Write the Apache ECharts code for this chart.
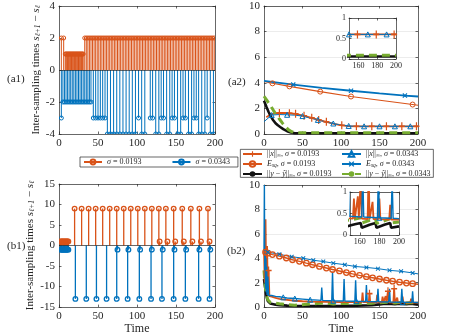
<!DOCTYPE html>
<html>
<head>
<meta charset="utf-8">
<script src="https://cdn.jsdelivr.net/npm/echarts@6/dist/echarts.min.js"></script>
<style>
html, body { margin: 0; padding: 0; background: #fff; }
#chart { width: 463px; height: 336px; }
</style>
</head>
<body>
<div id="chart"></div>
<script>
// ---- (a1) stems: sampling instants grouped by inter-sampling time ----
var a1OrangeAt1 = [8, 9, 10, 11, 12, 13, 14, 15, 16, 17, 18, 19, 20, 21, 22, 23, 24, 25, 26, 27, 28, 29, 30, 31]
var a1OrangeAt2 = [3, 6, 33, 35, 37, 39, 41, 43, 45, 47, 49, 51, 53, 55, 57, 59, 61, 63, 65, 67, 69, 71, 73, 75, 77, 79,
  81, 83, 85, 87, 89, 91, 93, 95, 97, 99, 101, 103, 105, 107, 109, 111, 113, 115, 117, 119, 121, 123, 125, 127, 129,
  131, 133, 135, 137, 139, 141, 143, 145, 147, 149, 151, 153, 155, 157, 159, 161, 163, 165, 167, 169, 171, 173, 175,
  177, 179, 181, 183, 185, 187, 189, 191, 193, 195, 197, 199]
var a1BlueAt2 = [5, 7, 9, 11, 13, 15, 17, 19, 21, 23, 25, 27, 29, 31, 33, 35, 37, 39, 41]
var a1BlueAt3 = [3, 44, 47, 50, 53, 56, 59, 102, 117, 120, 131, 134, 145, 148, 159, 162, 173, 176, 190]
var a1BlueAt4 = [62, 66, 70, 74, 78, 82, 86, 90, 94, 98, 106, 110, 124, 128, 138, 142, 152, 156, 166, 170, 179, 183, 187, 194, 198]

// ---- (b1) stems ----
var b1OrangeAt1 = [2, 3, 4, 5, 6, 7, 8, 9, 10, 11, 12, 129, 139, 149, 160, 171, 182, 193]
var b1OrangeAt9 = [20, 29, 38, 47, 56, 65, 74, 83, 92, 101, 110, 119, 128, 137, 147, 158, 169, 180, 191]
var b1BlueAt1 = [2, 3, 4, 5, 6, 7, 8, 9, 10, 11, 12, 75, 89, 104, 119, 133, 148, 163, 180, 194]
var b1BlueAt13 = [21, 35, 48, 61, 74, 88, 103, 118, 132, 147, 162, 179, 193]

// ---- (a2) curves: times, values, times that carry a marker ----
var a2XinfOrangeT = [3, 8, 13, 20, 27, 33, 41, 52, 62, 71, 81, 91, 101, 110, 120, 140, 159, 179, 198, 200]
var a2XinfOrangeV = [1.3, 1.5, 1.6, 1.64, 1.64, 1.62, 1.58, 1.42, 1.26, 1.1, 0.95, 0.8, 0.68, 0.62, 0.6, 0.6, 0.6, 0.6, 0.6, 0.6]
var a2XinfOrangeM = [20, 33, 41, 52, 62, 71, 81, 101, 120, 140, 159, 179, 198]
var a2XinfBlueT = [0, 10, 20, 30, 40, 50, 60, 70, 80, 90, 100, 110, 120, 130, 150, 170, 190, 200]
var a2XinfBlueV = [0.96, 1.48, 1.52, 1.5, 1.47, 1.4, 1.25, 1.1, 0.95, 0.82, 0.7, 0.63, 0.6, 0.6, 0.6, 0.6, 0.6, 0.6]
var a2XinfBlueM = [10, 30, 50, 70, 90, 110, 130, 150, 170, 190]
var a2EsqOrangeT = [0, 11, 33, 73, 113, 153, 193, 200]
var a2EsqOrangeV = [4.1, 3.96, 3.72, 3.31, 2.93, 2.62, 2.3, 2.24]
var a2EsqOrangeM = [11, 33, 73, 113, 193]
var a2EsqBlueT = [0, 38, 75, 113, 150, 183, 200]
var a2EsqBlueV = [4.15, 3.86, 3.6, 3.38, 3.17, 3.0, 2.93]
var a2EsqBlueM = [38, 113, 183]
var a2ErrBlackT = [0, 3, 6, 9, 12, 15, 18, 21, 25, 30, 35, 40, 100, 200]
var a2ErrBlackV = [2.6, 2.15, 1.72, 1.36, 1.07, 0.84, 0.68, 0.55, 0.38, 0.22, 0.11, 0.06, 0.06, 0.06]
var a2ErrGreenT = [0, 4, 8, 12, 16, 20, 24, 28, 32, 36, 40, 45, 100, 200]
var a2ErrGreenV = [2.95, 2.6, 2.25, 1.87, 1.5, 1.17, 0.85, 0.55, 0.32, 0.18, 0.11, 0.09, 0.09, 0.09]

// ---- (b2) curves ----
var b2EsqOrangeT = [0, 2, 5, 11, 20, 29, 37, 46, 55, 63, 72, 81, 89, 98, 107, 115, 124, 133, 141, 150, 159, 167, 176, 185, 193, 200]
var b2EsqOrangeV = [4.55, 4.5, 4.42, 4.3, 4.17, 4.02, 3.88, 3.75, 3.6, 3.47, 3.33, 3.2, 3.08, 2.96, 2.83, 2.72, 2.6, 2.49, 2.4, 2.3, 2.2, 2.12, 2.04, 1.97, 1.92, 1.87]
var b2EsqOrangeM = [2, 5, 11, 20, 29, 37, 46, 55, 63, 72, 81, 89, 98, 107, 115, 124, 133, 141, 150, 159, 167, 176, 185, 193]
var b2EsqBlueT = [0, 5, 20, 36, 51, 64, 77, 90, 105, 118, 133, 148, 163, 178, 193, 200]
var b2EsqBlueV = [4.7, 4.5, 4.32, 4.13, 4.0, 3.84, 3.73, 3.6, 3.47, 3.33, 3.25, 3.15, 3.01, 2.93, 2.8, 2.72]
var b2EsqBlueM = [5, 20, 36, 51, 64, 77, 90, 105, 118, 133, 148, 163, 178, 193]
var b2XinfBlueT = [0, 0.5, 1, 1.5, 2, 2.5, 3, 3.5, 4, 5, 6, 8, 10, 15, 20, 25, 30, 40, 50, 60, 70, 74, 75, 76, 88, 89, 90,
  103, 104, 105, 118, 119, 120, 132, 133, 134, 147, 148, 149, 162, 163, 164, 178, 179, 180, 192, 193, 194, 200]
var b2XinfBlueV = [4.6, 10, 3, 4.5, 1.5, 4, 1.2, 3.3, 1.0, 2.5, 0.95, 1.0, 0.95, 0.88, 0.85, 0.8, 0.75, 0.7, 0.65, 0.6, 0.57, 0.55, 1.6, 0.55, 0.52, 2.9, 0.52,
  0.5, 2.3, 0.5, 0.48, 2.2, 0.48, 0.46, 1.8, 0.46, 0.44, 1.5, 0.44, 0.42, 1.5, 0.42, 0.4, 1.5, 0.4, 0.39, 1.3, 0.39, 0.38]
var b2XinfBlueM = [25, 40, 60, 90, 120, 150, 180]
var b2XinfOrangeT = [0, 1, 2, 3, 4, 5, 6, 7, 10, 15, 20, 30, 40, 50, 60, 80, 100, 120, 127, 128, 129, 136, 137, 138, 146, 147, 148,
  153, 154, 155, 157, 158, 159, 160, 161, 162, 168, 169, 170, 172, 173, 174, 179, 180, 181, 190, 191, 192, 200]
var b2XinfOrangeV = [4.6, 2, 7.2, 1.5, 5, 1.0, 3.0, 0.9, 0.85, 0.75, 0.68, 0.6, 0.52, 0.48, 0.45, 0.43, 0.41, 0.4, 0.4, 1.2, 0.4, 0.4, 1.1, 0.4, 0.39, 1.0, 0.39,
  0.38, 0.85, 0.38, 0.38, 0.9, 0.38, 0.38, 1.3, 0.38, 0.37, 1.5, 0.37, 0.37, 0.77, 0.37, 0.37, 0.85, 0.37, 0.36, 0.7, 0.36, 0.36]
var b2XinfOrangeM = [6, 137, 161, 169]
var b2ErrBlackT = [0, 1, 2, 3, 4, 5, 6, 8, 10, 15, 20, 30, 40, 60, 80, 100, 120, 140, 150, 155, 161, 162, 170, 176, 177, 185, 191, 192, 200]
var b2ErrBlackV = [2.3, 1.8, 1.4, 1.0, 0.7, 0.5, 0.38, 0.3, 0.26, 0.2, 0.16, 0.12, 0.1, 0.09, 0.09, 0.1, 0.12, 0.15, 0.22, 0.25, 0.28, 0.17, 0.24, 0.28, 0.17, 0.24, 0.28, 0.17, 0.2]
var b2ErrGreenT = [0, 1, 2, 3, 5, 8, 10, 20, 30, 40, 60, 80, 90, 100, 120, 140, 150, 161, 162, 170, 176, 177, 185, 191, 192, 200]
var b2ErrGreenV = [3.0, 2.2, 1.5, 1.0, 0.6, 0.4, 0.35, 0.28, 0.2, 0.15, 0.25, 0.35, 0.25, 0.3, 0.3, 0.32, 0.35, 0.4, 0.28, 0.34, 0.38, 0.27, 0.33, 0.38, 0.28, 0.3]

var ORANGE = '#D95319'
var BLUE = '#0072BD'
var GREEN = '#77AC30'
var BLACK = '#111111'
var AXIS = '#262626'
var SERIF = 'Liberation Serif'

var grids = []
var xAxes = []
var yAxes = []
var series = []

function panel(box, xr, yr, opts) {
  var z = opts.zlevel || 0
  var fs = opts.fontSize || 11
  var gi = grids.length
  grids.push({ left: box[0], top: box[1], width: box[2], height: box[3], show: true, borderWidth: 0, backgroundColor: '#fff', zlevel: z })
  var line = { show: true, onZero: false, lineStyle: { color: AXIS, width: 0.7 } }
  var tick = { show: true, inside: true, length: 2.5, lineStyle: { color: AXIS, width: 0.7 } }
  var lbl = { fontFamily: SERIF, fontSize: fs, color: AXIS, margin: opts.labelMargin || 4 }
  var grid = { show: !!opts.grid, lineStyle: { color: '#dfdfdf', width: 0.6 } }
  var xb = { gridIndex: gi, type: 'value', min: xr[0], max: xr[1], position: 'bottom', zlevel: z,
    axisLine: line, axisTick: Object.assign({}, tick), axisLabel: Object.assign({}, lbl), splitLine: { show: false } }
  if (xr[3]) {
    xb.axisTick.customValues = xr[3]
    xb.axisLabel.customValues = xr[3]
  } else {
    xb.interval = xr[2]
  }
  if (opts.xName) {
    xb.name = opts.xName
    xb.nameLocation = 'middle'
    xb.nameGap = 15
    xb.nameTextStyle = { fontFamily: SERIF, fontSize: 12, color: AXIS }
  }
  xAxes.push(xb)
  xAxes.push({ gridIndex: gi, type: 'value', min: xr[0], max: xr[1], position: 'top', zlevel: z,
    interval: xr[3] ? undefined : xr[2],
    axisLine: line, axisTick: xr[3] ? Object.assign({ customValues: xr[3] }, tick) : tick,
    axisLabel: { show: false }, splitLine: { show: false } })
  var yl = { gridIndex: gi, type: 'value', min: yr[0], max: yr[1], interval: yr[2], position: 'left', zlevel: z,
    axisLine: line, axisTick: tick, axisLabel: lbl, splitLine: grid }
  if (opts.yName) {
    yl.name = opts.yName
    yl.nameLocation = 'middle'
    yl.nameGap = opts.yNameGap
    yl.nameTextStyle = { fontFamily: SERIF, fontSize: 11, color: AXIS, rich: {
      r: { fontFamily: SERIF, fontSize: 11, color: AXIS },
      i: { fontFamily: SERIF, fontSize: 11, fontStyle: 'italic', color: AXIS },
      sub: { fontFamily: SERIF, fontSize: 7.5, fontStyle: 'italic', color: AXIS, verticalAlign: 'bottom', padding: [4, 0, 0, 0] }
    } }
  }
  yAxes.push(yl)
  yAxes.push({ gridIndex: gi, type: 'value', min: yr[0], max: yr[1], interval: yr[2], position: 'right', zlevel: z,
    axisLine: line, axisTick: tick, axisLabel: { show: false }, splitLine: { show: false } })
  return { x: xAxes.length - 2, y: yAxes.length - 2, z: z }
}

var yLabel = '{r|Inter-sampling times }{i|s}{sub|ℓ+1}{r| − }{i|s}{sub|ℓ}'
var pA1 = panel([59, 6, 156, 128], [0, 200, 50], [-4, 4, 2], { yName: yLabel, yNameGap: 15 })
var pA2 = panel([264, 6, 154, 128], [0, 200, 50], [0, 10, 2], { grid: true })
var pA2in = panel([349, 18, 47, 41], [150, 200, 10, [160, 180, 200]], [0, 1, 0.5], { grid: true, fontSize: 8, labelMargin: 3, zlevel: 1 })
var pB1 = panel([59, 184, 156, 125], [0, 200, 50], [-15, 15, 5], { yName: yLabel, yNameGap: 19, xName: 'Time' })
var pB2 = panel([264, 185, 154, 125], [0, 200, 50], [0, 10, 2], { grid: true, xName: 'Time' })
var pB2in = panel([350, 192, 49, 43], [150, 200, 10, [160, 180, 200]], [0, 1, 0.5], { grid: true, fontSize: 8, labelMargin: 3, zlevel: 1 })

function stems(ax, times, level, color, r, w) {
  return {
    type: 'custom', xAxisIndex: ax.x, yAxisIndex: ax.y, clip: true, silent: true,
    data: times.map(function (t) { return [t, level] }),
    encode: { x: 0, y: 1 },
    renderItem: function (params, api) {
      var base = api.coord([api.value(0), 0])
      var tip = api.coord([api.value(0), api.value(1)])
      return { type: 'group', children: [
        { type: 'line', shape: { x1: base[0], y1: base[1], x2: tip[0], y2: tip[1] }, style: { stroke: color, lineWidth: w } },
        { type: 'circle', shape: { cx: tip[0], cy: tip[1], r: r }, style: { fill: 'none', stroke: color, lineWidth: w } }
      ] }
    }
  }
}

var baseLine = { silent: true, symbol: 'none', label: { show: false }, data: [{ yAxis: 0 }], lineStyle: { color: AXIS, width: 0.7, type: 'solid' } }

series.push(stems(pA1, a1OrangeAt1, 1, ORANGE, 2, 1))
series.push(stems(pA1, a1OrangeAt2, 2, ORANGE, 2, 1))
series.push(stems(pA1, a1BlueAt2, -2, BLUE, 2, 1))
series.push(stems(pA1, a1BlueAt3, -3, BLUE, 2, 1))
var a1Last = stems(pA1, a1BlueAt4, -4, BLUE, 2, 1)
a1Last.markLine = baseLine
series.push(a1Last)

series.push(stems(pB1, b1OrangeAt1, 1, ORANGE, 2.3, 1.3))
series.push(stems(pB1, b1OrangeAt9, 9, ORANGE, 2.3, 1.3))
series.push(stems(pB1, b1BlueAt1, -1, BLUE, 2.3, 1.3))
var b1Last = stems(pB1, b1BlueAt13, -13, BLUE, 2.3, 1.3)
b1Last.markLine = baseLine
series.push(b1Last)

// legend entries of (a1): empty line series carrying the stem look
var S1 = 'sig1'
var S2 = 'sig2'
;[[S1, ORANGE], [S2, BLUE]].forEach(function (d) {
  series.push({ type: 'line', name: d[0], xAxisIndex: pA1.x, yAxisIndex: pA1.y, data: [],
    symbol: 'circle', symbolSize: 5,
    lineStyle: { color: d[1], width: 1.2 },
    itemStyle: { color: 'rgba(0,0,0,0)', borderColor: d[1], borderWidth: 1.2 } })
})

var PLUS = 'path://M4,0H6V4H10V6H6V10H4V6H0V4H4Z'
var CROSS = 'path://M0,1.6L1.6,0L5,3.4L8.4,0L10,1.6L6.6,5L10,8.4L8.4,10L5,6.6L1.6,10L0,8.4L3.4,5Z'

function curve(name, ax, T, V, M, st) {
  return {
    type: 'line', name: name, xAxisIndex: ax.x, yAxisIndex: ax.y, zlevel: ax.z,
    data: T.map(function (t, i) {
      var item = { value: [t, V[i]] }
      if (!M || M.indexOf(t) < 0) item.symbol = 'none'
      return item
    }),
    symbol: st.symbol || 'none', symbolSize: st.size || 5, showAllSymbol: true, clip: true, silent: true,
    lineStyle: { color: st.color, width: st.width, type: st.dash || 'solid' },
    itemStyle: st.hollow
      ? { color: 'rgba(0,0,0,0)', borderColor: st.color, borderWidth: st.bw || 1 }
      : { color: st.color, borderWidth: 0 }
  }
}

var XO = 'xo', XB = 'xb', EO = 'eo', EB = 'eb', YO = 'yo', YB = 'yb'
var styleXO = { color: ORANGE, width: 1.8, symbol: PLUS, size: [6, 8] }
var styleXB = { color: BLUE, width: 1, symbol: 'triangle', size: 5, hollow: true, bw: 1 }
var styleEO = { color: ORANGE, width: 1.1, symbol: 'circle', size: 5, hollow: true, bw: 1 }
var styleEB = { color: BLUE, width: 1.8, symbol: CROSS, size: 5 }
var styleYO = { color: BLACK, width: 2.6 }
var styleYB = { color: GREEN, width: 3, dash: [8, 5] }

;[pA2, pA2in].forEach(function (p) {
  series.push(curve(XO, p, a2XinfOrangeT, a2XinfOrangeV, a2XinfOrangeM, styleXO))
  series.push(curve(EO, p, a2EsqOrangeT, a2EsqOrangeV, a2EsqOrangeM, styleEO))
  series.push(curve(YO, p, a2ErrBlackT, a2ErrBlackV, null, styleYO))
  series.push(curve(XB, p, a2XinfBlueT, a2XinfBlueV, a2XinfBlueM, styleXB))
  series.push(curve(EB, p, a2EsqBlueT, a2EsqBlueV, a2EsqBlueM, styleEB))
  series.push(curve(YB, p, a2ErrGreenT, a2ErrGreenV, null, styleYB))
})

var styleEOb = { color: ORANGE, width: 1.4, symbol: 'circle', size: 5.5, hollow: true, bw: 1.3 }
var styleEBb = { color: BLUE, width: 1, symbol: CROSS, size: 4.5 }
var styleXBb = { color: BLUE, width: 1.4, symbol: 'triangle', size: 5, hollow: true, bw: 1 }
;[pB2, pB2in].forEach(function (p) {
  series.push(curve(YO, p, b2ErrBlackT, b2ErrBlackV, null, styleYO))
  series.push(curve(YB, p, b2ErrGreenT, b2ErrGreenV, null, styleYB))
  series.push(curve(XO, p, b2XinfOrangeT, b2XinfOrangeV, b2XinfOrangeM, styleXO))
  series.push(curve(XB, p, b2XinfBlueT, b2XinfBlueV, b2XinfBlueM, styleXBb))
  series.push(curve(EO, p, b2EsqOrangeT, b2EsqOrangeV, b2EsqOrangeM, styleEOb))
  series.push(curve(EB, p, b2EsqBlueT, b2EsqBlueV, b2EsqBlueM, styleEBb))
})

var legendNames = {
  sig1: '{i|σ}{r| = 0.0193}',
  sig2: '{i|σ}{r| = 0.0343}',
  xo: '{r|||}{i|x}{r|||}{s|∞}{r|, }{i|σ}{r| = 0.0193}',
  xb: '{r|||}{i|x}{r|||}{s|∞}{r|, }{i|σ}{r| = 0.0343}',
  eo: '{i|E}{s|sq}{r|, }{i|σ}{r| = 0.0193}',
  eb: '{i|E}{s|sq}{r|, }{i|σ}{r| = 0.0343}',
  yo: '{r|||}{i|y}{r| − }{i|ŷ}{r|||}{s|∞}{r|, }{i|σ}{r| = 0.0193}',
  yb: '{r|||}{i|y}{r| − }{i|ŷ}{r|||}{s|∞}{r|, }{i|σ}{r| = 0.0343}'
}
var legendText = { fontFamily: SERIF, fontSize: 8, color: AXIS, rich: {
  r: { fontFamily: SERIF, fontSize: 8, color: AXIS },
  i: { fontFamily: SERIF, fontSize: 8, fontStyle: 'italic', color: AXIS },
  s: { fontFamily: SERIF, fontSize: 5.5, fontStyle: 'italic', color: AXIS, verticalAlign: 'bottom', padding: [3, 0, 0, 0] }
} }
function legendFmt(name) { return legendNames[name] }

var option = {
  animation: false,
  backgroundColor: '#fff',
  grid: grids,
  xAxis: xAxes,
  yAxis: yAxes,
  series: series,
  legend: [
    { data: [S1, S2], left: 80, top: 157, orient: 'horizontal', itemWidth: 18, itemHeight: 6, itemGap: 30,
      padding: [1, 8, 1, 3], borderColor: AXIS, borderWidth: 0.7, backgroundColor: '#fff',
      selectedMode: false, textStyle: legendText, formatter: legendFmt },
    { data: [XO, EO, YO], left: 242, top: 150, orient: 'vertical', itemWidth: 19, itemHeight: 7, itemGap: 1.5,
      padding: 0, selectedMode: false, textStyle: legendText, formatter: legendFmt },
    { data: [XB, EB, YB], left: 341, top: 150, orient: 'vertical', itemWidth: 19, itemHeight: 7, itemGap: 1.5,
      padding: 0, selectedMode: false, textStyle: legendText, formatter: legendFmt }
  ],
  graphic: [
    { type: 'rect', left: 240, top: 149, z: 3, shape: { width: 193, height: 28 }, style: { fill: '#fff', stroke: AXIS, lineWidth: 0.7 } },
    { type: 'text', left: 7, top: 74, style: { text: '(a1)', font: '11px "Liberation Serif"', fill: AXIS } },
    { type: 'text', left: 228, top: 77, style: { text: '(a2)', font: '11px "Liberation Serif"', fill: AXIS } },
    { type: 'text', left: 7, top: 241, style: { text: '(b1)', font: '11px "Liberation Serif"', fill: AXIS } },
    { type: 'text', left: 227, top: 246, style: { text: '(b2)', font: '11px "Liberation Serif"', fill: AXIS } }
  ]
}

var chart = echarts.init(document.getElementById('chart'), null, { renderer: 'canvas' })
chart.setOption(option)
</script>
</body>
</html>
